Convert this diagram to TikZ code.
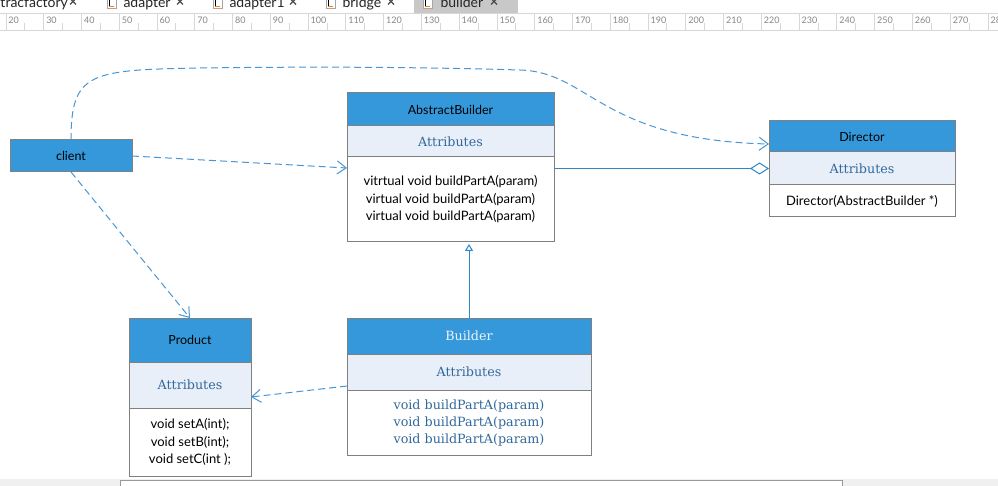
\documentclass[tikz,border=0pt]{standalone}
\usepackage{fontspec}
\newfontfamily\uisans{Lato}
\newfontfamily\uiserif{DejaVu Serif}
\usetikzlibrary{positioning,arrows.meta}
\definecolor{headblue}{RGB}{52,152,219}
\definecolor{attrfill}{RGB}{232,239,249}
\definecolor{boxgray}{RGB}{128,128,128}
\definecolor{attrtext}{RGB}{50,105,155}
\definecolor{titlewhite}{RGB}{238,244,250}
\definecolor{linkblue}{RGB}{45,135,200}
\definecolor{depblue}{RGB}{75,150,210}
\definecolor{tabgray}{RGB}{200,200,200}
\definecolor{tickgray}{RGB}{215,215,215}
\definecolor{numgray}{RGB}{135,135,135}
\definecolor{stripgray}{RGB}{240,240,240}
\newcommand{\classfont}{\uisans\fontsize{12.5}{17.5}\selectfont}
\newcommand{\opsfont}{\uisans\fontsize{13}{17.5}\selectfont}
\newcommand{\attrfont}{\uiserif\fontsize{12.7}{17}\selectfont}

\begin{document}
\begin{tikzpicture}[
                x=1pt,y=-1pt,line width=1pt,
                node distance=0pt,
                classpart/.style n args={3}{draw=boxgray,fill=#1,minimum width=#2,minimum height=#3,inner sep=0pt,outer sep=0pt,align=center},
                head/.style 2 args={classpart={headblue}{#1}{#2},font=\classfont},
                attrs/.style 2 args={classpart={attrfill}{#1}{#2},font=\attrfont,text=attrtext},
                ops/.style 2 args={classpart={white}{#1}{#2},font=\opsfont},
                dep/.style={draw=depblue,dash pattern=on 7pt off 4pt,-{Straight Barb[length=9pt,width=13pt]}},
                link/.style={draw=linkblue},
                tabname/.style={anchor=base west,inner sep=0pt,font=\uisans\fontsize{14}{16}\selectfont,text=black!85},
                rulernum/.style={anchor=north west,inner sep=0pt,font=\uisans\fontsize{9}{9}\selectfont,text=numgray}
            ]
                \useasboundingbox (0,0) rectangle (998,486);
                \fill[white] (0,0) rectangle (998,486);
                % tab bar and ruler
                \begin{scope}
                    \clip (0,0) rectangle (998,486);
                    \fill[tabgray] (414,0) rectangle (518,14);
                    \foreach \name/\tx/\cx in {tracfactory/0/73,adapter/123/180,adapter1/229/293,bridge/342/391,builder/440/494}{
                        \node (tab-\name) [tabname] at (\tx,8) {\name};
                        \draw[black!70,line width=1.1pt] (\cx-3,-1.5) -- (\cx+3,4.5) (\cx-3,4.5) -- (\cx+3,-1.5);
                    }
                    \foreach \ix in {107,213,326,423}{
                        \draw[black!35,line width=0.6pt,fill=white] (\ix,-2) rectangle (\ix+9,8);
                        \draw[black,line width=1pt] (\ix+2.5,-2) -- (\ix+2.5,6);
                        \draw[orange,line width=1pt] (\ix+2,6.5) -- (\ix+6.5,6.5);
                    }
                    \draw[tickgray] (0,14) -- (998,14) (0,31) -- (998,31);
                    \foreach \n in {20,30,...,280}{
                        \pgfmathsetmacro\rx{6+(\n-20)*3.777}
                        \draw[tickgray] (\rx,14) -- (\rx,31) (\rx+18.9,23) -- (\rx+18.9,31);
                        \node (r\n) [rulernum] at (\rx+2,16.5) {\n};
                    }
                    \fill[stripgray] (0,479) rectangle (998,486);
                    \draw[black!40,fill=white] (120,480) rectangle (842,492);
                \end{scope}
                % classes
                \node (client) [head={122pt}{32pt}] at (71,156) {client};
                \node (abh) [head={207pt}{33pt}] at (450.5,109.5) {AbstractBuilder};
                \node (aba) [attrs={207pt}{31pt},below=of abh] {Attributes};
                \node (abo) [ops={207pt}{85pt},below=of aba] {vitrtual void buildPartA(param)\\virtual void buildPartA(param)\\virtual void buildPartA(param)};
                \node (dirh) [head={186pt}{31pt}] at (862,136.5) {Director};
                \node (dira) [attrs={186pt}{33pt},below=of dirh] {Attributes};
                \node (diro) [ops={186pt}{32pt},below=of dira] {Director(AbstractBuilder *)};
                \node (prh) [head={122pt}{44pt}] at (190,340) {Product};
                \node (pra) [attrs={122pt}{46pt},below=of prh] {Attributes};
                \node (pro) [ops={122pt}{68pt},below=of pra] {void setA(int);\\void setB(int);\\void setC(int );};
                \node (bh) [head={244pt}{36pt},font=\attrfont,text=titlewhite] at (469,336) {Builder};
                \node (ba) [attrs={244pt}{36pt},below=of bh] {Attributes};
                \node (bo) [ops={244pt}{65pt},below=of ba,font=\attrfont,text=attrtext] {void buildPartA(param)\\void buildPartA(param)\\void buildPartA(param)};
                % connectors
                \coordinate (dirin) at ([yshift=-7.5pt]dirh.west);
                \coordinate (abin) at ([yshift=-11pt]abo.north west);
                \coordinate (bout) at ([yshift=-14pt]ba.west);
                \coordinate (prin) at ([yshift=-12pt]pra.east);
                \draw[dep] (client.north) .. controls (71,72) and (90,70) .. (200,68) .. controls (350,66) and (450,68) .. (520,70) .. controls (590,72) and (600,140) .. (dirin);
                \draw[dep] (client.east) -- (abin);
                \draw[dep] (client.south) -- (prh.north);
                \draw[dep] (bout) -- (prin);
                \draw[link,-{Diamond[open,length=19pt,width=12pt]}] (dira.west -| abo.east) -- (dira.west);
                \draw[link,-{Triangle[open,length=7pt,width=8pt]},shorten >=2pt] (bh.north) -- (bh.north |- abo.south);
            \end{tikzpicture}
\end{document}
